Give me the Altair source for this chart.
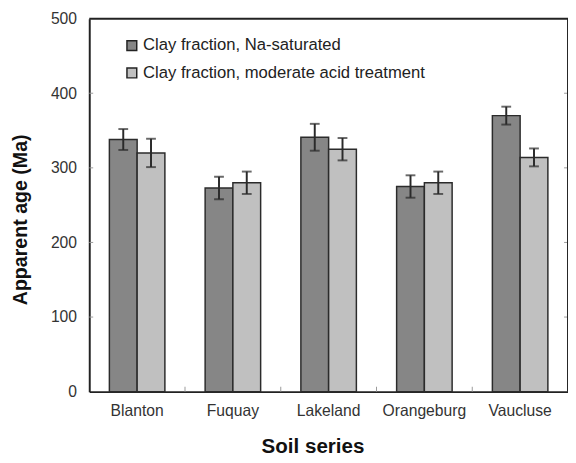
import altair as alt
import pandas as pd

soils = ["Blanton", "Fuquay", "Lakeland", "Orangeburg", "Vaucluse"]
series = ["Clay fraction, Na-saturated", "Clay fraction, moderate acid treatment"]
na_sat = [338, 273, 341, 275, 370]
na_err = [14, 15, 18, 15, 12]
acid = [320, 280, 325, 280, 314]
acid_err = [19, 15, 15, 15, 12]
y_ticks = [0, 100, 200, 300, 400, 500]
inner_ticks = [100, 200, 300, 400]
colors = ["#868686", "#c0c0c0"]

rows = []
for i, s in enumerate(soils):
    rows.append({"soil": s, "series": series[0], "value": na_sat[i],
                 "low": na_sat[i] - na_err[i], "high": na_sat[i] + na_err[i]})
    rows.append({"soil": s, "series": series[1], "value": acid[i],
                 "low": acid[i] - acid_err[i], "high": acid[i] + acid_err[i]})
df = pd.DataFrame(rows)

W, H = 489, 381
FONT = "Liberation Sans"
FRAME = "#222"

xscale = alt.Scale(domain=soils, paddingInner=0, paddingOuter=0)
xoff = alt.XOffset("series:N", sort=series,
                   scale=alt.Scale(domain=series, paddingInner=0, paddingOuter=0.725))
yscale = alt.Scale(domain=[0, 500], nice=False)

base = alt.Chart(df).encode(
    x=alt.X("soil:N", scale=xscale, sort=soils,
            axis=alt.Axis(title="Soil series", labelAngle=0, ticks=False, domain=True,
                          domainColor=FRAME, domainWidth=2,
                          labelFontSize=16, labelColor="#333", labelFont=FONT,
                          labelPadding=11, titleFont=FONT, titleFontSize=21,
                          titleFontWeight="bold", titleColor="#111",
                          titleX=228, titleY=62, titleBaseline="alphabetic")),
    xOffset=xoff,
)

bars = base.mark_bar(stroke="#2b2b2b", strokeWidth=1.5).encode(
    y=alt.Y("value:Q", scale=yscale,
            axis=alt.Axis(title="Apparent age (Ma)", values=y_ticks, grid=False,
                          ticks=False, domain=True, domainColor=FRAME, domainWidth=2,
                          labelFontSize=16,
                          labelColor="#333", labelFont=FONT, labelPadding=13,
                          titleFont=FONT, titleFontSize=20, titleFontWeight="bold",
                          titleColor="#111", titleX=-70, titleY=205,
                          titleAlign="center", titleBaseline="middle")),
    color=alt.Color("series:N", sort=series,
                    scale=alt.Scale(domain=series, range=colors),
                    legend=alt.Legend(title=None, orient="none", legendX=35, legendY=19,
                                      symbolType="square", symbolSize=100,
                                      symbolStrokeColor="#222", symbolStrokeWidth=1.5,
                                      labelFontSize=17, labelFont=FONT, labelColor="#222",
                                      labelOffset=3, rowPadding=10, labelLimit=1000)),
)

err_rule = base.mark_rule(color="#2a2a2a", strokeWidth=2).encode(
    y=alt.Y("low:Q", scale=yscale), y2="high:Q")
err_lo = base.mark_tick(color="#2a2a2a", size=10, thickness=2).encode(
    y=alt.Y("low:Q", scale=yscale))
err_hi = base.mark_tick(color="#2a2a2a", size=10, thickness=2).encode(
    y=alt.Y("high:Q", scale=yscale))

ydf = pd.DataFrame({"value": inner_ticks})
ytick_left = alt.Chart(ydf).mark_rule(color="#999", strokeWidth=1).encode(
    y=alt.Y("value:Q", scale=yscale), x=alt.value(0), x2=alt.value(4))
ytick_right = alt.Chart(ydf).mark_rule(color="#999", strokeWidth=1).encode(
    y=alt.Y("value:Q", scale=yscale), x=alt.value(W), x2=alt.value(W - 4))

xdf = pd.DataFrame({"soil": soils[1:]})
xtick = alt.Chart(xdf).mark_rule(color="#999", strokeWidth=1).encode(
    x=alt.X("soil:N", scale=xscale, sort=soils, bandPosition=0),
    y=alt.value(H), y2=alt.value(H - 5))

frame_df = pd.DataFrame({"k": [0]})
top_line = alt.Chart(frame_df).mark_rule(color=FRAME, strokeWidth=2).encode(
    x=alt.value(0), x2=alt.value(W), y=alt.value(0))
right_line = alt.Chart(frame_df).mark_rule(color=FRAME, strokeWidth=2).encode(
    x=alt.value(W), y=alt.value(0), y2=alt.value(H))

chart = alt.layer(bars, err_rule, err_lo, err_hi, ytick_left, ytick_right, xtick,
                  top_line, right_line).properties(
    width=W, height=H,
    autosize=alt.AutoSizeParams(type="none"),
    padding={"left": 83, "top": 6, "right": 0, "bottom": 68},
).configure(
    font=FONT,
    view=alt.ViewConfig(strokeWidth=0),
)

chart.save("out.html", embed_options={"renderer": "svg", "actions": False})
